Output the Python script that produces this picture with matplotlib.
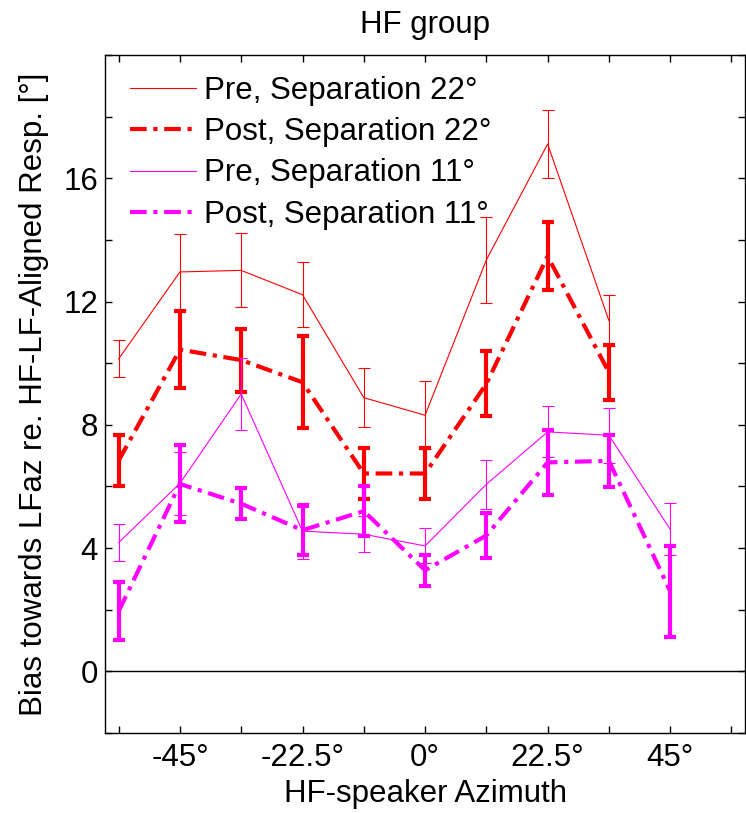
import numpy as np
import matplotlib
matplotlib.use("Agg")
import matplotlib.pyplot as plt
from matplotlib.lines import Line2D
from matplotlib.ticker import FixedLocator, FixedFormatter

plt.rcParams["font.family"] = ["Liberation Sans", "DejaVu Sans"]

# azimuths of the HF speaker (deg)
azimuth = [-56.25, -45, -33.75, -22.5, -11.25, 0, 11.25, 22.5, 33.75, 45]

pre22 = [10.14, 12.96, 13.01, 12.22, 8.88, 8.31, 13.35, 17.11, 11.38]
pre22_err = [0.6, 1.22, 1.2, 1.05, 0.96, 1.1, 1.4, 1.09, 0.83]

post22 = [6.84, 10.44, 10.1, 9.38, 6.42, 6.42, 9.33, 13.47, 9.7]
post22_err = [0.83, 1.26, 1.02, 1.5, 0.83, 0.83, 1.05, 1.1, 0.9]

pre11 = [4.18, 6.1, 9.0, 4.55, 4.45, 4.07, 6.07, 7.77, 7.66, 4.61]
pre11_err = [0.6, 1.02, 1.17, 0.9, 0.59, 0.57, 0.8, 0.83, 0.9, 0.85]

post11 = [1.95, 6.08, 5.44, 4.58, 5.2, 3.28, 4.41, 6.78, 6.83, 2.6]
post11_err = [0.94, 1.25, 0.5, 0.8, 0.8, 0.5, 0.72, 1.05, 0.84, 1.47]

xtick_pos = [-56.25, -45, -33.75, -22.5, -11.25, 0, 11.25, 22.5, 33.75, 45, 56.25]
xtick_lab = ["", "-45°", "", "-22.5°", "", "0°", "", "22.5°", "", "45°", ""]
ytick_pos = [-2, 0, 2, 4, 6, 8, 10, 12, 14, 16, 18, 20]
ytick_lab = ["", "0", "", "4", "", "8", "", "12", "", "16", "", ""]

series = [
    ("Pre, Separation 22°", pre22, pre22_err, "red", "thin"),
    ("Post, Separation 22°", post22, post22_err, "red", "thick"),
    ("Pre, Separation 11°", pre11, pre11_err, "magenta", "thin"),
    ("Post, Separation 11°", post11, post11_err, "magenta", "thick"),
]
DASHDOT = [4.0, 1.6, 1.0, 1.6]
FS = 22.5

fig = plt.figure(figsize=(7.46, 8.13), dpi=100)
ax = fig.add_axes([0.1408, 0.0984, 0.858, 0.834])

ax.axhline(0, color="black", lw=1.0, zorder=1)

handles = []
for label, y, err, color, kind in series:
    x = azimuth[:len(y)]
    if kind == "thin":
        ax.errorbar(x, y, yerr=err, color=color, lw=0.8, elinewidth=0.8,
                    capsize=4.3, capthick=0.8)
        h = Line2D([], [], color=color, lw=0.8)
    else:
        cont = ax.errorbar(x, y, yerr=err, color=color, lw=3.0, elinewidth=3.0,
                           capsize=4.3, capthick=3.0)
        cont.lines[0].set_dashes(DASHDOT)
        cont.lines[0].set_dash_capstyle("butt")
        h = Line2D([], [], color=color, lw=3.0, dashes=DASHDOT,
                   dash_capstyle="butt")
    handles.append((h, label))

ax.set_xlim(-58.75, 58.75)
ax.set_ylim(-2, 20)
ax.xaxis.set_major_locator(FixedLocator(xtick_pos))
ax.xaxis.set_major_formatter(FixedFormatter(xtick_lab))
ax.yaxis.set_major_locator(FixedLocator(ytick_pos))
ax.yaxis.set_major_formatter(FixedFormatter(ytick_lab))
ax.tick_params(direction="in", length=5, width=1, top=True, right=True,
               labelsize=FS)
ax.tick_params(axis="x", pad=7.5)
ax.tick_params(axis="y", pad=5)
for s in ax.spines.values():
    s.set_linewidth(1.0)

ax.set_xlabel("HF-speaker Azimuth", fontsize=FS, labelpad=4)
ax.set_ylabel("Bias towards LFaz re. HF-LF-Aligned Resp. [°]", fontsize=FS,
              labelpad=10)
ax.set_title("HF group", fontsize=FS, pad=16)

ax.legend([h for h, _ in handles], [l for _, l in handles], loc="upper left",
          frameon=False, fontsize=FS, handlelength=2.1, handletextpad=0.26,
          labelspacing=0.36, borderaxespad=0, borderpad=0,
          bbox_to_anchor=(0.039, 0.969))

fig.savefig("out.png", dpi=100)
